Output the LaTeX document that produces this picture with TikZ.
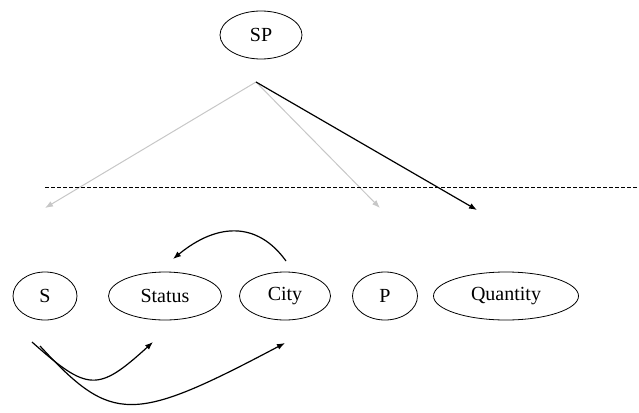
\documentclass[tikz,border=0pt]{standalone}
\usepackage{fontspec}
\setmainfont{Liberation Serif}
\usetikzlibrary{shapes.geometric}
\usetikzlibrary{arrows.meta}

\begin{document}
\begin{tikzpicture}[x=1pt,y=-1pt,
            attr/.style = {draw, ellipse, minimum height=48pt, inner sep=0pt, line width=0.8pt, font=\fontsize{20}{24}\selectfont},
            fd/.style = {-{Latex[length=8pt,width=6pt]}, line width=1.2pt},
            faint/.style = {fd, draw=black!22, line width=1pt}
            ]
            \useasboundingbox (0,0) rectangle (639,412);
            \node[attr, minimum width=82pt] (SP) at (261,35) {SP};
            \node[attr, minimum width=64pt] (S) at (45,296) {S};
            \node[attr, minimum width=113pt] (Status) at (165,296) {Status};
            \node[attr, minimum width=91pt] (City) at (285,296) {City};
            \node[attr, minimum width=65pt] (P) at (385,296) {P};
            \node[attr, minimum width=145pt] (Quantity) at (506,296) {Quantity};

            \coordinate (top) at (256,82);
            \coordinate (toS) at (45,208);
            \coordinate (toP) at (380,208);
            \coordinate (toQ) at (477,210);
            \draw[faint] (top) -- (toS);
            \draw[faint] (top) -- (toP);
            \draw[fd] (top) -- (toQ);
            \draw[dashed, dash pattern=on 4pt off 2pt, line width=0.9pt] (45,187) -- (639,187);

            \coordinate (cityOut) at (286,261);
            \coordinate (statusIn) at (173,259);
            \draw[fd] (cityOut) .. controls (258,222) and (218,222) .. (statusIn);

            \coordinate (sOut1) at (32,342);
            \coordinate (sOut2) at (40,346);
            \coordinate (statusIn2) at (153,342);
            \coordinate (cityIn) at (285,343);
            \draw[fd] (sOut1) .. controls (88,392) and (98,392) .. (statusIn2);
            \draw[fd] (sOut2) .. controls (112,424) and (132,424) .. (cityIn);
\end{tikzpicture}
\end{document}
